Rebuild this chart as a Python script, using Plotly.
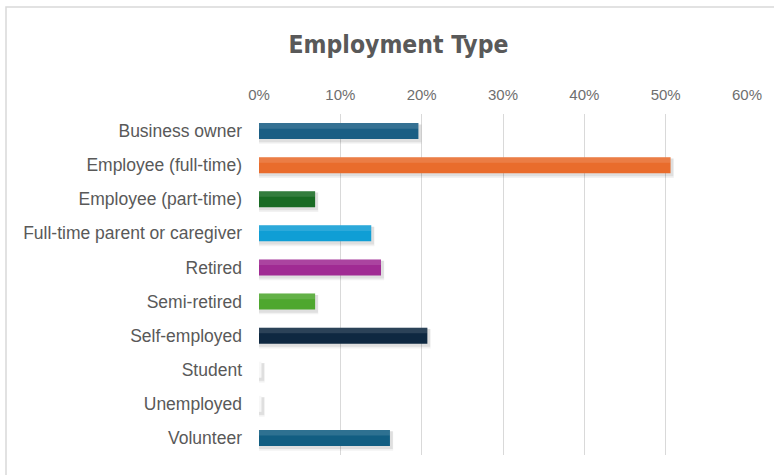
import plotly.graph_objects as go

# Share of respondents by employment type (%)
categories = [
    "Business owner",
    "Employee (full-time)",
    "Employee (part-time)",
    "Full-time parent or caregiver",
    "Retired",
    "Semi-retired",
    "Self-employed",
    "Student",
    "Unemployed",
    "Volunteer",
]
values = [19.6, 50.6, 6.9, 13.8, 15.0, 6.9, 20.7, 0.3, 0.3, 16.1]
colors = [
    "#1A5E84", "#E96C2C", "#196B24", "#0F9ED5", "#A02B93",
    "#4EA72E", "#0E2841", "#F7F7F7", "#F7F7F7", "#125E82",
]
tick_vals = [0, 10, 20, 30, 40, 50, 60]
tick_text = ["0%", "10%", "20%", "30%", "40%", "50%", "60%"]

BAR_W = 0.47

fig = go.Figure()

# soft drop shadow beneath each bar (two layers for a blurred edge)
for extra, alpha in [(0.10, 0.05), (0.05, 0.08)]:
    fig.add_trace(go.Bar(
        y=categories, x=[v + 0.3 + extra for v in values], orientation="h",
        width=BAR_W + extra, offset=-BAR_W / 2 + 0.04,
        marker=dict(color=f"rgba(0,0,0,{alpha})", line=dict(width=0)),
        hoverinfo="skip", showlegend=False,
    ))

# main bars
fig.add_trace(go.Bar(
    y=categories, x=values, orientation="h",
    width=BAR_W,
    marker=dict(color=colors, line=dict(width=0)),
    hovertemplate="%{y}: %{x:.1f}%<extra></extra>",
    showlegend=False,
))

# light sheen on the upper part of each bar
fig.add_trace(go.Bar(
    y=categories, x=values, orientation="h",
    width=BAR_W * 0.35, offset=-BAR_W / 2,
    marker=dict(color="rgba(255,255,255,0.12)", line=dict(width=0)),
    hoverinfo="skip", showlegend=False,
))

fig.update_layout(
    width=774, height=475,
    margin=dict(l=259, r=27, t=114, b=20),
    paper_bgcolor="white", plot_bgcolor="white",
    barmode="overlay",
    title=dict(
        text="<b>Employment Type</b>",
        x=398.5 / 774, xref="container", xanchor="center",
        y=1 - 44 / 475, yanchor="middle",
        font=dict(family="DejaVu Sans Condensed, Roboto, sans-serif",
                  size=24.5, color="#595959"),
    ),
    xaxis=dict(
        side="top", range=[0, 60],
        tickvals=tick_vals, ticktext=tick_text,
        showgrid=True, gridcolor="#D9D9D9", gridwidth=1.3,
        zeroline=False, showline=False, ticks="",
        tickfont=dict(family="Liberation Sans, Arial, sans-serif", size=15, color="#6E6E6E"),
        ticklabelstandoff=10, fixedrange=True,
    ),
    yaxis=dict(
        autorange="reversed", showgrid=False, zeroline=False,
        showline=False, ticks="",
        tickfont=dict(family="Liberation Sans, Arial, sans-serif", size=17.5, color="#595959"),
        ticklabelstandoff=16, fixedrange=True,
    ),
    shapes=[dict(
        type="rect", xref="paper", yref="paper",
        x0=(6 - 259) / 488, x1=(800 - 259) / 488,
        y0=(455 - 500) / 341, y1=(455 - 7) / 341,
        line=dict(color="#D9D9D9", width=1.5), fillcolor="rgba(0,0,0,0)",
        layer="below",
    )],
)

fig.write_html("out.html")
